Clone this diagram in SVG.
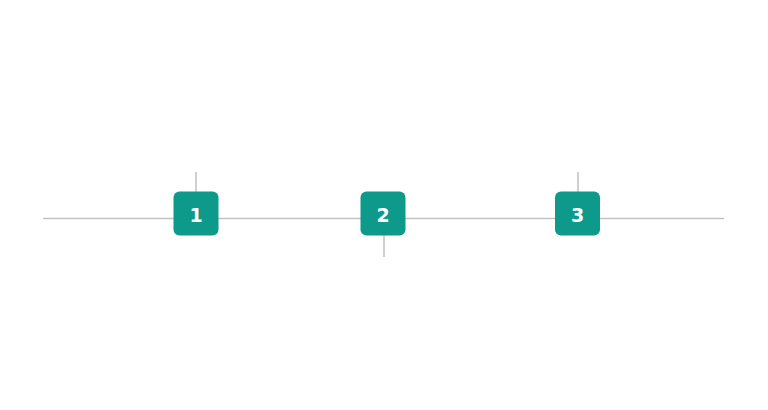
<svg xmlns="http://www.w3.org/2000/svg" width="768" height="410" viewBox="0 0 768 410">
<style>
.ln{stroke:#bfc1c4;stroke-width:1.5;fill:none}
.box{fill:#0d9a8a}
.lbl{fill:#ffffff;font-family:"DejaVu Sans",sans-serif;font-weight:bold;font-size:19px;text-anchor:middle;dominant-baseline:central}
</style>
<rect width="768" height="410" fill="#ffffff"/>
<g id="connectors">
<line class="ln" x1="43" y1="218.5" x2="724" y2="218.5"/>
<line class="ln" x1="196" y1="172" x2="196" y2="192"/>
<line class="ln" x1="384" y1="235" x2="384" y2="257"/>
<line class="ln" x1="578" y1="172" x2="578" y2="192"/>
</g>
<g id="node1">
<rect class="box" x="173.5" y="191.5" width="45" height="44" rx="6"/>
<text class="lbl" x="196" y="214.5">1</text>
</g>
<g id="node2">
<rect class="box" x="360.5" y="191.5" width="45" height="44" rx="6"/>
<text class="lbl" x="383" y="214.5">2</text>
</g>
<g id="node3">
<rect class="box" x="555" y="191.5" width="45" height="44" rx="6"/>
<text class="lbl" x="577.5" y="214.5">3</text>
</g>
</svg>
